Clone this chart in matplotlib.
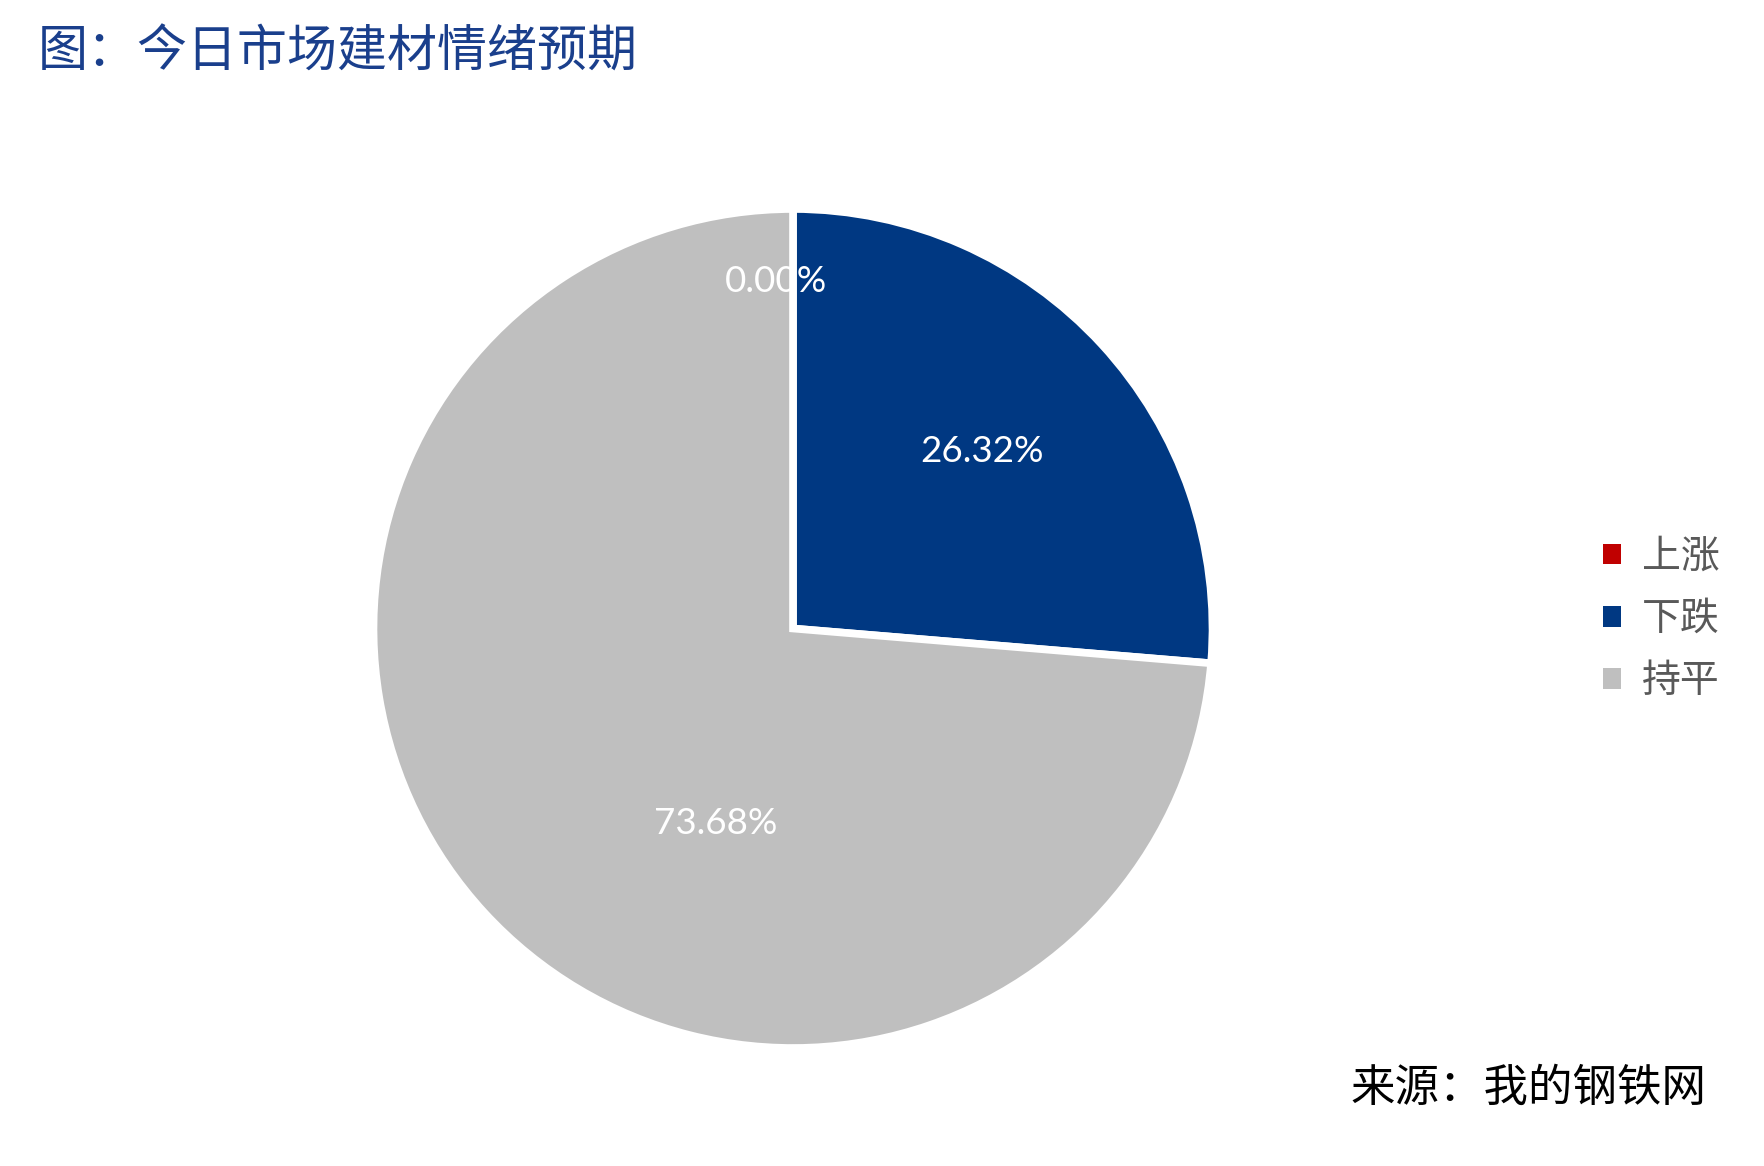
import matplotlib
matplotlib.use("Agg")
import matplotlib.pyplot as plt
from matplotlib.patches import Patch

plt.rcParams['font.family'] = ['Noto Sans CJK SC', 'DejaVu Sans']

# ---- data ----
categories = ['上涨', '下跌', '持平']
values = [0.00, 26.32, 73.68]
pct_labels = ['0.00%', '26.32%', '73.68%']
colors = ['#C00000', '#003882', '#BFBFBF']
title = '图：今日市场建材情绪预期'
source = '来源：我的钢铁网'

# label positions (in pie-radius units)
label_pos = [(-0.04, 0.826), (0.45, 0.422), (-0.185, -0.465)]

W, H = 1764, 1166
fig = plt.figure(figsize=(W / 100, H / 100), dpi=100)
fig.patch.set_facecolor('white')

cx, cy, r = 793, 628.5, 419.5
ax = fig.add_axes([(cx - r) / W, (H - cy - r) / H, 2 * r / W, 2 * r / H])
wedges, _ = ax.pie(values, colors=colors, startangle=90, counterclock=False,
                   radius=1, wedgeprops=dict(edgecolor='white', linewidth=5.5))
ax.set_xlim(-1, 1)
ax.set_ylim(-1, 1)
ax.set_aspect('equal')
ax.axis('off')

for txt, (x, y) in zip(pct_labels, label_pos):
    ax.text(x, y, txt, ha='center', va='center', color='white',
            fontsize=26.5, family=['Lato', 'DejaVu Sans'])

handles = [Patch(facecolor=c, edgecolor='none') for c in colors]
leg = fig.legend(handles, categories, loc='center left',
                 bbox_to_anchor=(1603 / W, (H - 619) / H),
                 frameon=False, fontsize=28, handlelength=0.45, handleheight=0.45,
                 handletextpad=0.55, labelspacing=0.57, borderpad=0, borderaxespad=0)
for t in leg.get_texts():
    t.set_color('#595959')

fig.text(38 / W, 1 - 53 / H, title, ha='left', va='center', fontsize=36,
         color='#1A3F8C')
fig.text(1706 / W, 1 - 1088 / H, source, ha='right', va='center', fontsize=32,
         color='black')

fig.savefig('out.png', dpi=100, facecolor='white')
